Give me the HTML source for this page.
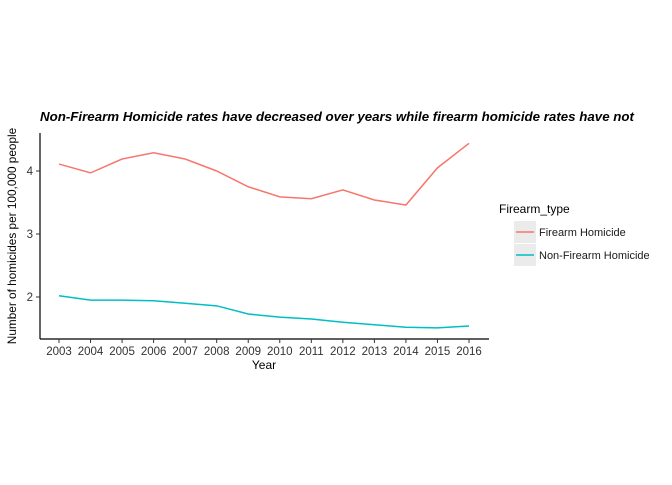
<!DOCTYPE html>
<html><head><meta charset="utf-8"><style>
body{margin:0;background:#fff;}
text{font-family:"Liberation Sans",sans-serif;}
</style></head><body>
<svg id="chart" width="672" height="480">
<text x="40" y="121" font-size="12.5" font-weight="bold" font-style="italic" fill="#000" textLength="594" lengthAdjust="spacingAndGlyphs">Non-Firearm Homicide rates have decreased over years while firearm homicide rates have not</text>
<g id="axes"></g>
<g id="series"></g>
<text x="264" y="369" font-size="12" text-anchor="middle" fill="#000">Year</text>
<text transform="translate(16,236) rotate(-90)" font-size="11.8" text-anchor="middle" fill="#000">Number of homicides per 100,000 people</text>
<g>
<text x="499" y="213" font-size="12" fill="#000">Firearm_type</text>
<g><rect x="514" y="221" width="22" height="22" fill="#ebebeb"/><line x1="516" y1="232" x2="534" y2="232" stroke="#F8766D" stroke-width="1.5"/><text x="539" y="236" font-size="11" fill="#1a1a1a">Firearm Homicide</text></g>
<g><rect x="514" y="244" width="22" height="22" fill="#ebebeb"/><line x1="516" y1="255" x2="534" y2="255" stroke="#00BFC4" stroke-width="1.5"/><text x="539" y="259" font-size="11" fill="#1a1a1a">Non-Firearm Homicide</text></g>
</g>
</svg>
<script>
const years=[2003,2004,2005,2006,2007,2008,2009,2010,2011,2012,2013,2014,2015,2016];
const firearm=[4.11,3.97,4.19,4.29,4.19,4.0,3.75,3.59,3.56,3.7,3.54,3.46,4.05,4.44];
const nonFirearm=[2.02,1.95,1.95,1.94,1.9,1.86,1.73,1.68,1.65,1.6,1.56,1.52,1.51,1.54];
const yTicks=[2,3,4];
const NS='http://www.w3.org/2000/svg';
function xS(y){return 59+(y-2003)*(469-59)/13;}
function yS(v){return 297-(v-2)*63;}
function mk(tag,attrs,parent){const e=document.createElementNS(NS,tag);for(const k in attrs)e.setAttribute(k,attrs[k]);parent.appendChild(e);return e;}
const axes=document.getElementById('axes');
const xl=mk('line',{x1:40,y1:339,x2:489,y2:339,stroke:'#000','stroke-width':1.2},axes);


const yl=mk('line',{x1:40,y1:133,x2:40,y2:339,stroke:'#000','stroke-width':1.2},axes);


years.forEach(y=>{
  mk('line',{x1:xS(y),y1:339,x2:xS(y),y2:343,stroke:'#333'},axes);
  const t=mk('text',{x:xS(y),y:355,'font-size':11.5,'text-anchor':'middle',fill:'#333'},axes);
  t.textContent=y;
  
  
});
yTicks.forEach(v=>{
  mk('line',{x1:36,y1:yS(v),x2:40,y2:yS(v),stroke:'#333'},axes);
  const t=mk('text',{x:33,y:yS(v)+4,'font-size':11.5,'text-anchor':'end',fill:'#333'},axes);
  t.textContent=v;
  
  
});
const ser=document.getElementById('series');
[[firearm,'#F8766D','firearm-line'],[nonFirearm,'#00BFC4','non-firearm-line']].forEach(([d,c,n])=>{
  const p=mk('polyline',{points:d.map((v,i)=>xS(years[i])+','+yS(v)).join(' '),fill:'none',stroke:c,'stroke-width':1.5},ser);
  
  
});
</script>
</body></html>
